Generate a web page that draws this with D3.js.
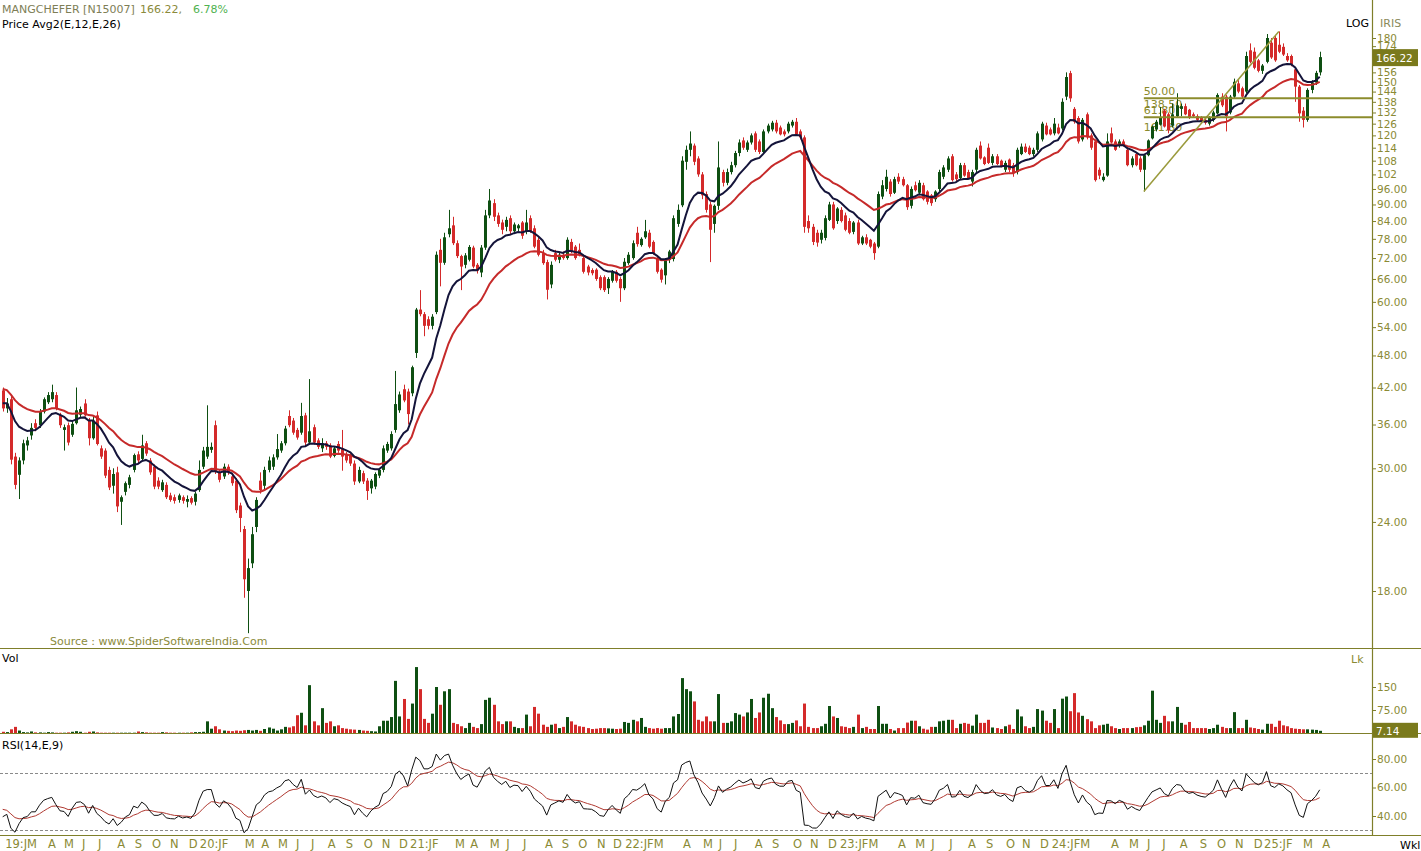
<!DOCTYPE html>
<html><head><meta charset="utf-8">
<script src="https://cdn.jsdelivr.net/npm/d3@7"></script>
<style>
html,body{margin:0;padding:0;background:#fff;}
svg{display:block;}
text{font-family:"DejaVu Sans",Verdana,sans-serif;}
</style></head><body>
<svg id="c" width="1421" height="851"></svg>
<script>
// ---------- DATA (weekly) ----------
const opens = [
41.5,38.5,40.0,31.5,29.2,31.0,33.0,34.4,36.2,35.9,
38.0,39.5,40.0,40.7,37.5,35.2,35.9,34.5,36.2,37.5,
39.3,36.6,34.0,37.4,32.6,32.3,29.8,27.9,29.5,26.1,
27.2,28.0,29.8,31.8,31.2,33.3,31.0,30.2,28.5,27.4,
28.0,26.8,26.6,26.3,26.6,26.1,26.5,26.1,27.4,30.2,
31.5,32.4,35.9,29.5,29.0,30.2,29.0,28.5,25.7,23.3,
18.0,20.2,23.5,28.5,27.9,29.8,30.2,31.4,32.3,33.3,
37.3,36.6,35.2,34.8,37.4,33.4,35.6,33.7,32.6,33.3,
33.0,31.6,33.2,32.6,31.8,31.6,30.6,28.4,29.4,28.5,
27.6,27.8,29.1,29.8,32.3,32.6,35.2,38.2,41.7,41.3,
41.0,48.5,58.1,57.0,55.8,54.3,57.5,74.5,70.6,79.5,
82.5,76.6,72.6,70.0,71.5,75.2,70.0,67.8,75.2,86.0,
90.5,86.0,83.5,82.0,85.0,80.5,81.5,83.5,80.5,85.0,
81.5,77.7,73.5,70.8,64.5,73.5,71.5,73.0,72.0,77.0,
75.5,74.5,72.0,69.5,68.5,68.6,66.5,66.5,63.5,65.5,
68.0,66.0,63.5,70.5,72.0,80.0,76.0,78.5,80.0,77.0,
72.0,68.6,67.0,71.5,71.7,83.0,89.7,107.5,113.0,115.0,
109.0,102.0,94.0,90.0,83.0,89.5,103.0,98.5,103.0,106.0,
111.5,117.5,113.0,116.5,121.0,117.0,112.0,122.0,123.0,126.5,
124.0,122.0,122.0,125.0,127.0,122.0,119.0,84.0,82.0,80.0,
77.7,78.3,84.4,90.0,84.0,88.0,86.0,84.0,80.3,83.5,
76.5,78.5,77.7,76.5,75.5,93.0,96.0,99.0,94.5,101.0,
100.0,97.5,89.5,97.5,94.5,97.5,95.0,93.5,92.0,96.0,
101.0,104.0,110.0,102.0,100.5,106.0,103.0,99.0,104.0,115.0,
109.5,114.0,107.0,110.0,108.0,104.0,108.5,106.0,103.0,111.0,
114.5,114.0,111.0,113.0,118.0,125.0,123.0,121.0,124.0,123.5,
141.0,155.5,134.0,129.0,118.0,131.0,120.0,117.0,104.0,99.6,
101.5,121.0,117.0,115.0,117.0,113.0,106.0,111.0,109.0,104.0,
110.5,118.5,123.0,125.5,133.0,131.0,125.0,130.0,134.0,135.5,
133.5,131.0,130.0,129.0,128.0,126.0,128.0,131.5,141.0,141.0,
132.0,141.0,149.0,146.0,144.0,171.0,170.0,164.0,157.0,163.0,
176.5,180.0,175.0,173.5,167.0,167.0,158.0,147.0,133.0,128.0,
145.0,149.5,156.0];
const highs = [
42.0,40.2,40.5,32.0,31.4,33.8,34.2,36.2,36.8,38.4,
40.3,41.2,42.5,41.2,37.8,36.0,36.3,36.5,42.0,38.8,
40.0,37.0,37.2,38.0,33.0,32.6,30.2,30.0,30.2,26.8,
28.4,29.2,31.9,32.2,34.5,33.6,31.3,30.5,28.9,28.6,
28.3,27.1,26.9,27.0,26.8,26.8,26.7,27.2,31.0,32.8,
39.0,33.4,36.6,29.9,30.6,30.5,29.4,28.8,26.0,23.6,
20.6,23.5,26.6,29.5,30.2,31.5,31.8,34.6,33.6,35.8,
38.2,37.0,35.5,39.4,37.8,43.5,36.0,34.0,34.0,33.6,
33.3,32.9,33.6,35.2,32.1,31.9,31.0,30.2,29.7,28.8,
28.7,29.5,30.0,33.0,33.5,35.0,45.0,41.3,42.5,41.8,
46.0,58.5,63.0,57.5,56.5,57.0,74.0,78.0,80.0,88.0,
85.5,77.5,73.0,73.5,76.0,75.8,70.5,76.0,88.0,96.0,
92.0,87.0,84.5,85.5,86.0,83.5,83.0,84.0,88.0,86.0,
82.5,78.5,74.5,71.5,71.0,74.5,73.8,74.0,78.5,78.0,
76.0,76.5,72.5,70.0,69.0,69.0,67.0,67.0,66.5,68.5,
68.5,66.5,72.0,73.8,77.5,82.0,78.5,84.4,81.0,77.5,
72.5,69.0,72.0,74.5,86.0,90.0,110.0,115.0,122.0,116.0,
110.0,103.0,95.0,91.0,90.0,117.0,104.0,104.5,107.5,112.5,
118.0,119.0,117.5,121.0,122.0,118.0,123.0,126.0,127.5,128.0,
125.0,123.0,127.0,128.0,129.0,123.0,120.0,86.0,83.0,81.0,
81.0,86.0,91.0,91.0,89.0,89.0,87.0,85.0,84.0,84.5,
79.0,79.5,78.0,77.0,95.0,99.6,104.0,100.0,101.0,102.5,
101.0,98.0,97.0,99.0,99.6,98.5,95.5,94.0,95.5,104.0,
106.0,110.0,111.0,103.0,107.0,107.0,104.0,104.0,114.0,117.0,
110.0,116.0,111.0,111.0,108.5,108.0,109.0,107.0,114.0,116.0,
116.0,115.0,114.0,122.0,127.0,126.5,124.0,129.0,126.0,140.0,
156.0,157.0,135.0,130.0,129.0,132.0,121.0,118.0,105.0,102.5,
121.0,124.0,118.0,118.0,118.0,114.0,110.0,112.0,110.0,111.0,
118.0,125.0,128.0,135.0,134.0,132.0,137.0,143.0,137.0,137.0,
134.0,132.0,131.0,130.0,129.0,130.0,133.0,143.0,143.0,142.0,
142.0,152.0,151.0,147.0,170.0,176.0,173.0,165.0,161.5,183.0,
180.0,182.0,185.0,176.0,169.0,168.0,159.0,148.0,135.0,146.0,
151.0,157.0,170.0];
const lows = [
38.0,37.8,30.5,27.5,26.4,30.5,32.3,33.8,35.0,35.5,
37.7,39.2,39.5,38.2,35.5,32.3,33.0,34.2,36.0,37.0,
37.2,33.0,33.8,33.0,31.2,28.8,27.4,27.0,25.0,23.7,
26.8,27.6,29.5,30.6,30.9,31.6,29.2,27.5,27.5,27.2,
26.4,26.1,25.9,26.0,25.9,25.5,25.8,25.7,27.2,29.9,
31.2,32.0,29.3,28.3,28.7,29.2,27.9,24.9,23.0,17.5,
15.1,19.8,23.0,27.0,27.5,29.5,29.8,31.1,32.0,33.0,
35.6,34.5,33.8,34.5,33.0,33.1,33.1,32.5,32.1,32.4,
31.3,31.4,32.0,29.7,30.7,30.3,28.0,28.2,28.1,26.3,
27.0,27.5,28.8,29.5,32.0,32.3,34.8,37.8,39.5,36.0,
40.5,47.5,56.5,52.0,53.5,53.5,57.0,64.0,70.0,78.5,
76.0,72.0,63.0,69.0,71.0,69.0,67.5,66.5,74.5,85.0,
84.0,82.0,79.5,80.5,79.5,79.8,80.5,78.0,79.5,80.0,
75.0,72.5,70.0,60.6,63.5,71.0,70.5,71.5,71.5,73.5,
71.5,72.5,67.5,67.0,67.0,65.5,63.0,62.5,62.0,65.0,
65.0,60.0,63.0,70.0,71.5,75.5,75.5,78.0,75.0,73.0,
67.5,65.0,64.5,70.5,71.0,82.0,89.0,104.0,110.0,106.0,
101.0,92.0,87.0,70.8,80.0,88.0,97.0,97.5,102.0,105.0,
110.0,113.0,112.0,115.5,112.0,111.0,111.0,121.0,122.0,121.0,
120.0,119.5,121.0,124.0,120.0,118.0,80.0,80.0,76.0,75.5,
76.5,77.5,84.0,81.0,83.0,83.5,80.5,79.5,79.5,76.0,
76.0,76.0,75.0,71.5,75.0,92.0,95.0,93.0,94.0,98.0,
97.0,88.0,88.5,95.0,93.5,91.5,90.0,89.5,91.0,95.0,
100.0,103.0,99.0,99.0,100.0,101.0,100.0,97.0,103.0,108.5,
106.0,106.5,106.0,106.0,105.0,103.0,103.0,101.0,102.0,110.5,
111.5,110.5,110.0,112.0,117.0,120.0,120.0,120.0,120.5,122.5,
139.0,138.0,126.0,116.0,117.0,118.0,113.0,99.0,100.0,99.0,
101.0,116.0,112.5,114.0,114.5,105.5,105.0,105.5,103.0,95.0,
110.0,118.0,122.0,125.0,124.0,121.0,124.0,129.0,130.0,130.5,
128.5,129.0,127.5,126.5,125.5,125.0,127.0,131.0,135.0,122.0,
131.0,140.0,143.0,140.0,143.0,162.0,158.0,156.0,155.0,162.0,
165.0,163.0,169.0,167.0,163.0,160.0,138.0,127.0,124.0,127.0,
143.0,148.0,154.0];
const closes = [
38.5,39.3,31.1,28.0,31.0,33.3,33.7,35.5,35.5,38.0,
40.0,40.7,41.2,38.5,35.9,35.6,33.4,36.1,38.2,38.4,
37.4,34.0,36.6,33.2,31.5,29.1,27.7,29.3,25.6,26.6,
28.2,28.9,31.7,31.0,33.0,31.9,29.5,27.8,27.8,28.3,
26.6,26.3,26.2,26.8,26.2,26.4,26.0,27.0,29.8,32.3,
32.8,32.8,29.6,28.6,30.2,29.5,28.2,25.2,24.4,18.9,
19.8,22.8,26.3,27.4,29.8,31.0,31.4,32.5,33.3,35.4,
35.9,34.8,34.1,37.3,33.4,35.0,33.4,32.8,33.3,32.8,
31.5,32.6,32.3,31.5,31.0,30.6,28.4,29.8,28.4,27.3,
28.5,29.3,29.8,32.6,33.2,34.6,39.2,40.8,39.8,37.6,
45.7,58.1,57.0,54.3,54.3,56.4,73.0,70.6,78.5,81.5,
76.6,72.6,69.5,72.8,75.4,69.5,68.3,75.2,86.0,91.5,
85.5,83.0,81.0,84.4,80.5,82.8,82.5,79.0,83.5,80.5,
75.5,73.0,70.5,63.1,70.0,71.5,73.0,72.0,77.7,74.0,
72.0,72.8,68.0,67.8,67.6,66.0,63.5,63.0,66.0,68.0,
65.5,63.5,70.9,73.0,76.6,76.3,78.0,80.5,75.5,73.5,
68.0,65.8,71.7,74.0,85.0,88.0,108.0,113.0,116.0,107.5,
102.0,93.5,88.0,81.0,89.5,105.0,98.5,103.0,106.0,111.5,
116.5,114.0,116.5,120.0,113.0,112.0,122.0,125.0,126.5,122.0,
120.5,120.5,126.0,127.0,120.5,119.0,82.0,81.5,77.0,76.8,
80.0,85.0,90.0,81.5,88.5,84.0,81.0,80.0,83.5,76.5,
78.5,76.5,75.5,73.5,94.0,97.5,101.0,94.0,100.0,99.0,
97.5,89.0,96.0,95.5,98.5,92.0,91.0,90.5,95.0,103.0,
105.0,109.0,99.6,100.0,106.0,101.5,100.5,103.0,113.0,109.0,
106.5,107.0,110.0,106.5,105.5,107.0,104.0,102.5,113.0,114.5,
112.0,111.0,113.0,121.0,126.0,120.5,120.5,126.0,121.0,138.0,
153.0,140.0,127.0,117.0,128.0,119.0,114.0,99.6,101.5,101.0,
117.0,116.5,113.0,117.0,115.0,106.0,109.0,106.0,104.0,110.5,
117.5,124.5,127.0,129.5,124.5,122.5,131.0,136.0,135.5,131.0,
129.0,130.0,128.0,127.0,126.5,129.0,132.0,142.0,136.0,130.0,
141.0,150.0,144.0,141.0,167.0,163.0,159.0,157.0,160.5,180.0,
166.0,164.0,170.0,168.0,164.0,161.0,147.0,131.5,128.0,145.0,
149.5,155.67,166.22];
const volumes = [
4,3,12,20,8,3,2,5,2,2,
1,3,2,1,1,1,2,4,6,4,
1,4,5,2,1,1,1,1,1,1,
1,1,1,5,3,2,1,1,1,3,
2,1,1,1,1,1,2,3,3,4,
38,14,22,12,8,7,6,8,7,9,
10,8,10,7,13,18,14,8,12,20,
18,22,58,66,25,156,38,25,81,33,
38,22,25,16,14,12,11,10,8,7,
6,5,22,40,40,52,170,54,111,46,
96,215,143,46,33,63,150,92,136,143,
33,29,22,16,33,20,16,29,108,115,
92,38,29,38,38,20,16,16,60,22,
85,63,27,20,27,30,16,20,52,38,
27,22,20,16,13,14,16,16,15,14,
13,14,36,33,43,38,49,20,16,14,
16,14,16,16,54,62,179,143,136,103,
43,38,54,38,38,127,33,33,38,65,
60,54,67,111,49,67,115,128,81,52,
41,29,29,33,41,22,96,20,16,16,
22,30,88,54,49,22,20,16,20,60,
16,20,13,13,88,30,30,13,8,16,
16,34,40,40,22,14,11,20,20,38,
40,43,43,16,30,33,30,24,60,33,
33,43,18,16,13,22,27,13,77,54,
22,16,20,78,73,40,33,78,16,112,
119,71,130,67,56,45,38,16,25,27,
30,22,16,13,16,16,16,19,20,25,
40,138,43,33,56,38,38,85,33,27,
36,16,16,16,16,13,16,27,20,16,
16,68,16,16,43,18,16,13,11,30,
30,20,40,25,22,16,14,13,12,12,
11,10,7.14];

// month labels along the time axis (week index where each label starts)
const monthText = ["19:JM","A","M","J","J","A","S","O","N","D",
  "20:JF","M","A","M","J","J","A","S","O","N","D",
  "21:JF","M","A","M","J","J","A","S","O","N","D",
  "22:JFM","A","M","J","J","A","S","O","N","D",
  "23:JFM","A","M","J","J","A","S","O","N","D",
  "24:JFM","A","M","J","J","A","S","O","N","D",
  "25:JF","M","A"];
const monthWeek = [0.6,11.1,15,19.4,23.3,28,32.3,36.5,40.9,45.5,
  48.2,59.2,63.2,67.3,71.7,75.4,79.5,83.9,88.3,92.7,96.9,
  99.6,110.6,114.3,119.1,123.1,127.2,132.6,136.7,140.7,145.3,149.2,
  152.2,166.3,171.2,175.1,178.8,183.9,188.1,193.2,197.4,201.8,
  204.7,218.9,223.1,227,231.4,236,240.4,245.3,249.2,253.6,
  256.5,271,275.4,279.8,283.5,287.8,292.7,296.9,301.3,305.9,
  308.4,317.9,322.6];

const priceTicks = [18,24,30,36,42,48,54,60,66,72,78,84,90,96,102,108,114,120,126,132,138,144,150,156,162,168,174,180];
const hiddenPriceLabels = [162,168];   // covered by the last-price box in the reference
const volTicks = [150,75];
const rsiTicks = [80,60,40];
const rsiBands = [70,30];

// indicator seeds (values of the averages just before the first visible week)
const ema12Seed = 39.5, ema26Seed = 42.0;
const rsiSeedGain = 0.9, rsiSeedLoss = 1.15, rsiSeedPrev = 41.5, rsiSignalSeed = 46;

// fibonacci drawing
const fibLowIdx = 279, fibHighIdx = 312, fibLow = 95, fibHigh = 185;
const fibLevels = [0.5, 0.618];
const fibLabels = ["50.00","138.50","61.80","161.80"];
const fibLabelY = [95,108,114,131];

const lastClose = 166.22, lastChangePct = 6.78, lastVolume = 7.14;

// ---------- DRAWING ----------
const W = 1421, H = 851, AX = 1372;
const GREEN = '#0e4f12', RED = '#d42a2a', OLIVE = '#8a8a34', LINE = '#7f7f2a';
const FONT = '"DejaVu Sans",Verdana,sans-serif';
const svg = d3.select('#c');
const N = closes.length;
const x = d3.scaleLinear().domain([0, N - 1]).range([2.7, 1319.7]);
const yP = d3.scaleLog().domain([180, 18]).range([38, 591]);
const yV = d3.scaleLinear().domain([0, 150]).range([733, 687]);
const yR = d3.scaleLinear().domain([40, 80]).range([816, 759]);

const defs = svg.append('defs');
defs.append('clipPath').attr('id', 'cp').append('rect').attr('x', 0).attr('y', 0).attr('width', AX).attr('height', 648);
defs.append('clipPath').attr('id', 'cv').append('rect').attr('x', 0).attr('y', 649).attr('width', AX).attr('height', 84);
defs.append('clipPath').attr('id', 'cr').append('rect').attr('x', 0).attr('y', 734).attr('width', AX).attr('height', 101);

const idx = d3.range(N);
const up = i => closes[i] >= opens[i];
const col = i => up(i) ? GREEN : RED;
const cx = i => Math.round(x(i));

// fibonacci labels (drawn underneath the candles, as in the reference)
const fx0 = x(fibLowIdx), fx1 = x(fibHighIdx);
fibLabels.forEach((t, k) => svg.append('text').attr('x', fx0).attr('y', fibLabelY[k]).text(t)
  .attr('font-size', 11).attr('fill', '#8a8a2c'));

// price pane
const gP = svg.append('g').attr('clip-path', 'url(#cp)');
gP.selectAll('line.w').data(idx).join('line').attr('class', 'w')
  .attr('x1', i => cx(i) + 0.5).attr('x2', i => cx(i) + 0.5)
  .attr('y1', i => yP(highs[i])).attr('y2', i => yP(lows[i]))
  .attr('stroke', col).attr('stroke-width', 1);
gP.selectAll('rect.b').data(idx).join('rect').attr('class', 'b')
  .attr('x', i => cx(i) - 1).attr('width', 3)
  .attr('y', i => yP(Math.max(opens[i], closes[i])))
  .attr('height', i => Math.max(1, yP(Math.min(opens[i], closes[i])) - yP(Math.max(opens[i], closes[i]))))
  .attr('fill', col);

function ema(vals, n, seed) { const k = 2 / (n + 1); let e = seed; return vals.map(v => (e = e + k * (v - e))); }
const e12 = ema(closes, 12, ema12Seed), e26 = ema(closes, 26, ema26Seed);
const pline = arr => d3.line().x((d, i) => x(i)).y(d => yP(d))(arr);
gP.append('path').attr('d', pline(e26)).attr('fill', 'none').attr('stroke', '#c62a2a').attr('stroke-width', 2);
gP.append('path').attr('d', pline(e12)).attr('fill', 'none').attr('stroke', '#14143a').attr('stroke-width', 2);

// fibonacci lines
gP.append('line').attr('x1', fx0).attr('y1', yP(fibLow)).attr('x2', fx1).attr('y2', yP(fibHigh))
  .attr('stroke', '#9a9a3c').attr('stroke-width', 1.5);
fibLevels.forEach(l => {
  const p = fibHigh - l * (fibHigh - fibLow);
  gP.append('line').attr('x1', fx0).attr('x2', AX).attr('y1', yP(p)).attr('y2', yP(p))
    .attr('stroke', '#8c8c2c').attr('stroke-width', 2);
});

// volume pane
const gV = svg.append('g').attr('clip-path', 'url(#cv)');
gV.selectAll('rect').data(idx).join('rect')
  .attr('x', i => cx(i) - 1).attr('width', 3)
  .attr('y', i => yV(volumes[i])).attr('height', i => Math.max(0.5, yV(0) - yV(volumes[i])))
  .attr('fill', col);

// RSI pane
let ag = rsiSeedGain, al = rsiSeedLoss, prev = rsiSeedPrev;
const rsi = closes.map(c => { const d = c - prev; prev = c;
  ag = (ag * 13 + Math.max(d, 0)) / 14; al = (al * 13 + Math.max(-d, 0)) / 14;
  return 100 - 100 / (1 + ag / al); });
const sig = ema(rsi, 9, rsiSignalSeed);
const gR = svg.append('g').attr('clip-path', 'url(#cr)');
rsiBands.forEach(b => gR.append('line').attr('x1', 0).attr('x2', AX).attr('y1', Math.round(yR(b)) + 0.5).attr('y2', Math.round(yR(b)) + 0.5)
  .attr('stroke', '#8a8a8a').attr('stroke-width', 1).attr('stroke-dasharray', '3,2'));
const rline = arr => d3.line().x((d, i) => x(i)).y(d => yR(d))(arr);
gR.append('path').attr('d', rline(sig)).attr('fill', 'none').attr('stroke', '#b03a32').attr('stroke-width', 1);
gR.append('path').attr('d', rline(rsi)).attr('fill', 'none').attr('stroke', '#111').attr('stroke-width', 1);

// frame lines
[648.5, 733.5, 835.5].forEach(yy => svg.append('line').attr('x1', 0).attr('x2', W).attr('y1', yy).attr('y2', yy)
  .attr('stroke', LINE).attr('stroke-width', 1.2));
svg.append('line').attr('x1', AX + 0.5).attr('x2', AX + 0.5).attr('y1', 0).attr('y2', 835).attr('stroke', LINE).attr('stroke-width', 1.2);

// axes
function styleAxis(g) {
  g.select('.domain').remove();
  g.selectAll('line').attr('stroke', LINE);
  g.selectAll('text').attr('fill', OLIVE).attr('font-size', 10.5).attr('font-family', FONT);
}
const fmt = v => v >= 100 ? d3.format('d')(v) : d3.format('.2f')(v);
svg.append('g').attr('transform', `translate(${AX},0)`)
  .call(d3.axisRight(yP).tickValues(priceTicks).tickSize(4).tickPadding(1)
    .tickFormat(v => hiddenPriceLabels.includes(v) ? '' : fmt(v)))
  .call(styleAxis);
svg.append('g').attr('transform', `translate(${AX},0)`)
  .call(d3.axisRight(yV).tickValues(volTicks).tickSize(4).tickPadding(1).tickFormat(fmt))
  .call(styleAxis);
svg.append('g').attr('transform', `translate(${AX},0)`)
  .call(d3.axisRight(yR).tickValues(rsiTicks).tickSize(4).tickPadding(1).tickFormat(d3.format('.2f')))
  .call(styleAxis);

// last value boxes
svg.append('rect').attr('x', AX + 1).attr('y', yP(lastClose) - 8).attr('width', 45).attr('height', 17).attr('fill', '#7a7a1c');
svg.append('text').attr('x', AX + 4).attr('y', yP(lastClose) + 4.5).text(d3.format('.2f')(lastClose)).attr('fill', '#fff').attr('font-size', 10.5);
svg.append('rect').attr('x', AX + 1).attr('y', yV(lastVolume) - 8).attr('width', 45).attr('height', 15).attr('fill', '#7a7a1c');
svg.append('text').attr('x', AX + 4).attr('y', yV(lastVolume) + 4).text(d3.format('.2f')(lastVolume)).attr('fill', '#fff').attr('font-size', 10.5);

// time axis labels
svg.append('g').selectAll('text').data(monthText).join('text')
  .attr('x', (d, k) => x(monthWeek[k])).attr('y', 848).text(d => d)
  .attr('fill', OLIVE).attr('font-size', 11.5);

// header & labels
const hdr = svg.append('text').attr('x', 2).attr('y', 13).attr('font-size', 11);
hdr.append('tspan').text('MANGCHEFER [N15007]').attr('fill', '#7e7e56');
hdr.append('tspan').attr('x', 140).text(d3.format('.2f')(lastClose) + ',').attr('fill', '#8a8a3c');
hdr.append('tspan').attr('x', 193).text(d3.format('.2f')(lastChangePct) + '%').attr('fill', '#4fb24f');
svg.append('text').attr('x', 2).attr('y', 28).attr('font-size', 11).attr('fill', '#000').text('Price  Avg2(E,12,E,26)');
svg.append('text').attr('x', 1346).attr('y', 27).attr('font-size', 11).attr('fill', '#000').text('LOG');
svg.append('text').attr('x', 1380).attr('y', 27).attr('font-size', 11).attr('fill', '#8a8a5a').text('IRIS');
svg.append('text').attr('x', 50).attr('y', 645).attr('font-size', 11).attr('fill', '#8a8a3a').text('Source : www.SpiderSoftwareIndia.Com');
svg.append('text').attr('x', 2).attr('y', 662).attr('font-size', 11).attr('fill', '#000').text('Vol');
svg.append('text').attr('x', 1351).attr('y', 663).attr('font-size', 11).attr('fill', OLIVE).text('Lk');
svg.append('text').attr('x', 2).attr('y', 749).attr('font-size', 11).attr('fill', '#000').text('RSI(14,E,9)');
svg.append('text').attr('x', 1400).attr('y', 849).attr('font-size', 11).attr('fill', '#000').text('Wkl');
</script>
</body></html>
